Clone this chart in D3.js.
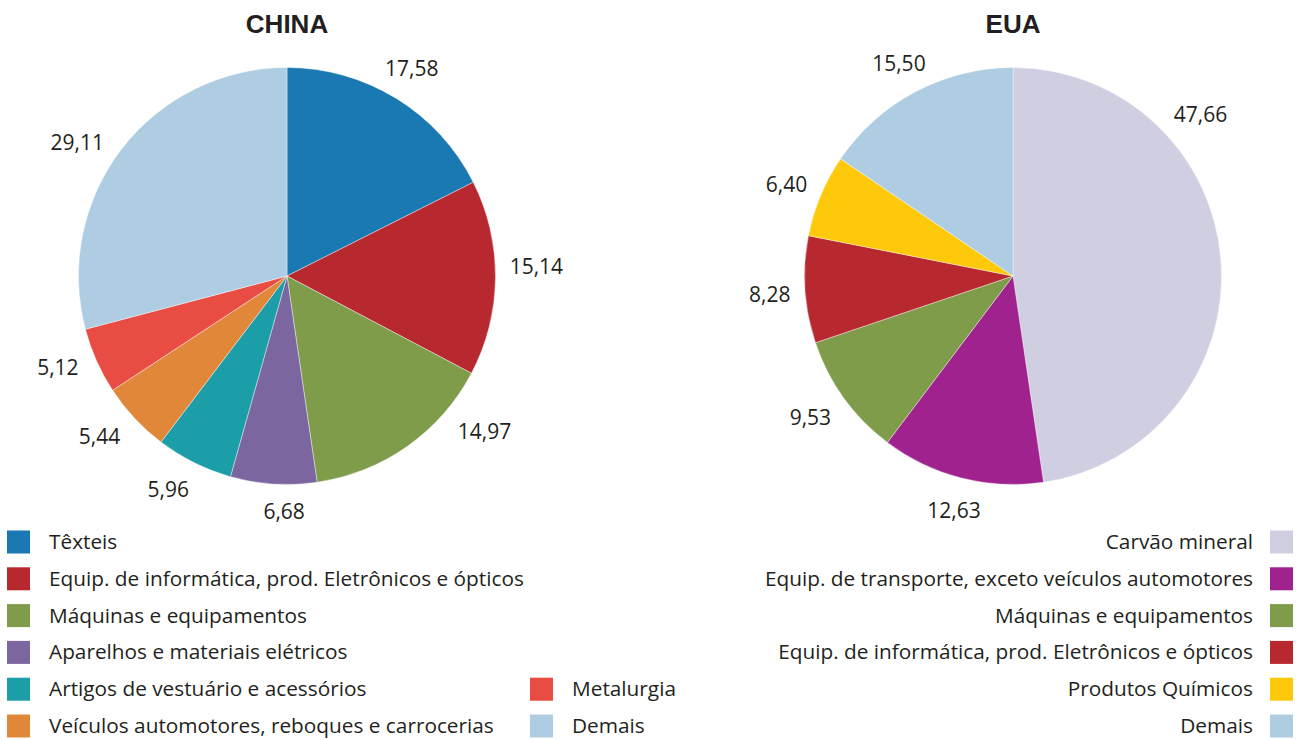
<!DOCTYPE html>
<html>
<head>
<meta charset="utf-8">
<script src="https://cdn.jsdelivr.net/npm/d3@7"></script>
<style>
  body { margin: 0; background: #fff; }
  svg { display: block; }
  .lbl, .leg { font-family: "Open Sans", sans-serif; fill: #231f20; }
  .title { font-family: "Liberation Sans", Arial, sans-serif; font-weight: bold; fill: #231f20; }
</style>
</head>
<body>
<div id="chart"></div>
<script>
// China data
const chinaCats = ["Têxteis", "Equip. de informática, prod. Eletrônicos e ópticos", "Máquinas e equipamentos",
    "Aparelhos e materiais elétricos", "Artigos de vestuário e acessórios",
    "Veículos automotores, reboques e carrocerias", "Metalurgia", "Demais"]
const chinaVals = [17.58, 15.14, 14.97, 6.68, 5.96, 5.44, 5.12, 29.11]
const chinaColors = ["#1a78b3", "#b8282f", "#7e9c4a", "#7c66a0", "#1c9ea8", "#e0873a", "#e84c42", "#aecde3"]

// EUA data
const euaCats = ["Carvão mineral", "Equip. de transporte, exceto veículos automotores", "Máquinas e equipamentos",
    "Equip. de informática, prod. Eletrônicos e ópticos", "Produtos Químicos", "Demais"]
const euaVals = [47.66, 12.63, 9.53, 8.28, 6.40, 15.50]
const euaColors = ["#d0cfe1", "#a0228e", "#7e9c4a", "#b8282f", "#fdc90a", "#aecde3"]

const fmt = v => v.toFixed(2).replace(".", ",")

const W = 1298, H = 740
const svg = d3.select("#chart").append("svg")
    .attr("width", W)
    .attr("height", H)

const R = 208.5

// label angle tweaks (degrees), like the hand-moved labels in the original
const chinaNudge = [-1, -3.5, -17, -3, 3, 3, 3, -4.5]
const euaNudge = [-37, 0, 1.5, 0, 0, 0]

const drawPie = (cx, cy, title, cats, vals, colors, nudge) => {
    const g = svg.append("g").attr("transform", `translate(${cx},${cy})`)

    const pie = d3.pie().sort(null).value(d => d)
    const arcs = pie(vals)
    const arc = d3.arc().innerRadius(0).outerRadius(R)

    g.selectAll("path")
        .data(arcs)
        .join("path")
        .attr("d", arc)
        .attr("fill", (d, i) => colors[i])
        .attr("stroke", "#fff")
        .attr("stroke-width", 0.4)

    // labels outside, box just clear of the rim
    const gap = 14
    g.selectAll("text.lbl")
        .data(arcs)
        .join("text")
        .attr("class", "lbl")
        .attr("font-size", 21)
        .attr("text-anchor", "middle")
        .text(d => fmt(d.data))
        .each(function (d, i) {
            const bb = this.getBBox()
            const a = (d.startAngle + d.endAngle) / 2 + nudge[i] * Math.PI / 180
            const ext = Math.abs(Math.sin(a)) * bb.width / 2 + Math.abs(Math.cos(a)) * 10
            const r = R + gap + ext
            const x = Math.sin(a) * r
            const y = -Math.cos(a) * r
            d3.select(this).attr("x", x).attr("y", y + 10.5)
        })

    svg.append("text")
        .attr("class", "title")
        .attr("x", cx)
        .attr("y", 32.7)
        .attr("text-anchor", "middle")
        .attr("font-size", 26)
        .text(title)
}

drawPie(287, 276, "CHINA", chinaCats, chinaVals, chinaColors, chinaNudge)
drawPie(1013, 276, "EUA", euaCats, euaVals, euaColors, euaNudge)

// legends
const rowY = d3.scaleLinear().domain([0, 5]).range([542, 726])
const sq = 23
const legSize = 20.8

// China: first 6 in column 1, last 2 in column 2 (rows 4,5)
const chinaLeg = chinaCats.map((c, i) => ({
    name: c, color: chinaColors[i],
    col: i < 6 ? 0 : 1,
    row: i < 6 ? i : i - 2
}))
const colX = [7, 530]
const lg = svg.append("g")
lg.selectAll("rect")
    .data(chinaLeg)
    .join("rect")
    .attr("x", d => colX[d.col])
    .attr("y", d => rowY(d.row) - sq / 2)
    .attr("width", sq)
    .attr("height", sq)
    .attr("fill", d => d.color)
lg.selectAll("text")
    .data(chinaLeg)
    .join("text")
    .attr("class", "leg")
    .attr("font-size", legSize)
    .attr("x", d => colX[d.col] + 42)
    .attr("y", d => rowY(d.row) + 7)
    .text(d => d.name)

// EUA: right aligned
const rg = svg.append("g")
rg.selectAll("rect")
    .data(euaCats)
    .join("rect")
    .attr("x", 1270)
    .attr("y", (d, i) => rowY(i) - sq / 2)
    .attr("width", sq)
    .attr("height", sq)
    .attr("fill", (d, i) => euaColors[i])
rg.selectAll("text")
    .data(euaCats)
    .join("text")
    .attr("class", "leg")
    .attr("font-size", legSize)
    .attr("text-anchor", "end")
    .attr("x", 1253)
    .attr("y", (d, i) => rowY(i) + 7)
    .text(d => d)
</script>
</body>
</html>
